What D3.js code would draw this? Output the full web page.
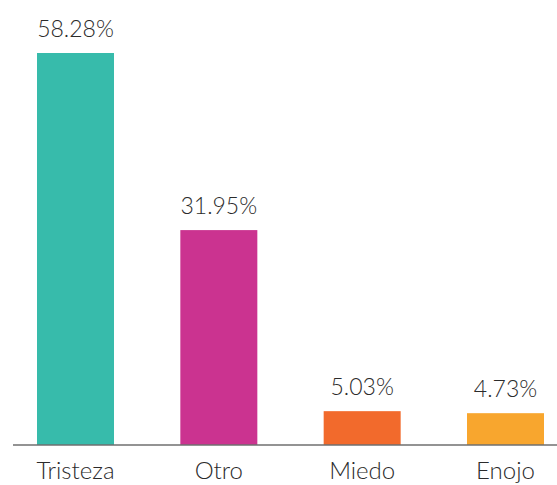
<!DOCTYPE html>
<html>
<head>
<meta charset="utf-8">
<script src="https://cdn.jsdelivr.net/npm/d3@7"></script>
<style>
  html, body { margin: 0; padding: 0; background: #fff; }
  svg { display: block; }
  text { font-family: Lato, "Open Sans", sans-serif; font-weight: 300; fill: #2b2b2b; }
</style>
</head>
<body>
<svg id="chart" width="557" height="485"></svg>
<script>
// Emotion categories and their shares (%)
const categories = ["Tristeza", "Otro", "Miedo", "Enojo"];
const values = [58.28, 31.95, 5.03, 4.73];
const valueLabels = ["58.28%", "31.95%", "5.03%", "4.73%"];
const colors = ["#37bbab", "#cb3390", "#f26a2c", "#f8a62e"];

const svg = d3.select("#chart");
const baseY = 445;

const x = d3.scaleBand()
  .domain(categories)
  .range([37, 544])
  .paddingInner(0.4628)
  .paddingOuter(0);

const y = d3.scaleLinear()
  .domain([0, d3.max(values)])
  .range([baseY, 53]);

const data = categories.map((c, i) => ({ c, v: values[i], label: valueLabels[i], color: colors[i] }));

// bars
svg.append("g").selectAll("rect")
  .data(data)
  .join("rect")
  .attr("x", d => x(d.c))
  .attr("y", d => y(d.v))
  .attr("width", x.bandwidth())
  .attr("height", d => y(0) - y(d.v))
  .attr("fill", d => d.color);

// baseline axis
const axis = d3.axisBottom(x).tickSize(0);
const gAxis = svg.append("g")
  .attr("transform", `translate(0,${baseY})`)
  .call(axis);
gAxis.select(".domain").remove();
gAxis.append("line")
  .attr("x1", 13).attr("x2", 557)
  .attr("y1", 0).attr("y2", 0)
  .attr("stroke", "#6f6f6f")
  .attr("stroke-width", 1.5);
gAxis.selectAll(".tick text")
  .attr("dy", null)
  .attr("y", 34)
  .style("font-family", "Lato, 'Open Sans', sans-serif")
  .style("font-weight", 300)
  .style("font-size", "24px")
  .attr("fill", "#2b2b2b");

// value labels
svg.append("g").selectAll("text")
  .data(data)
  .join("text")
  .attr("x", d => x(d.c) + x.bandwidth() / 2)
  .attr("y", d => y(d.v) - 16)
  .attr("text-anchor", "middle")
  .style("font-size", "23px")
  .text(d => d.label);
</script>
</body>
</html>
